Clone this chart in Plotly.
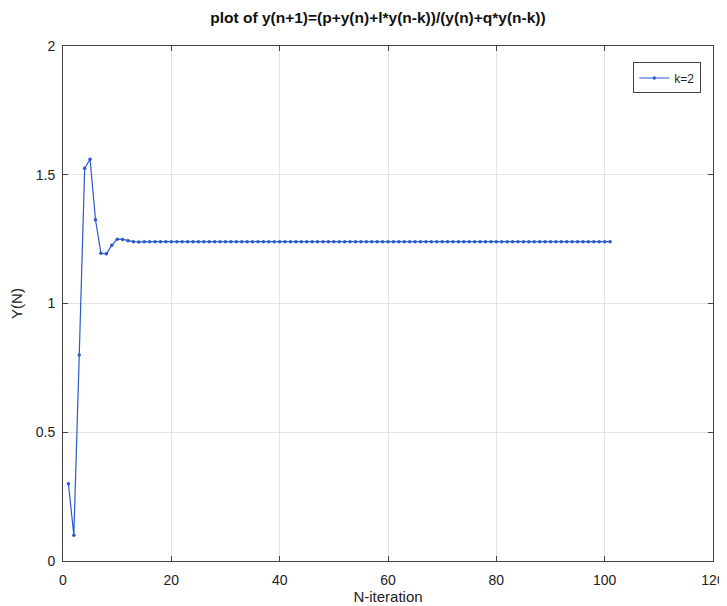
import plotly.graph_objects as go

n_early = list(range(1, 15))
y_early = [0.30, 0.10, 0.80, 1.525, 1.56, 1.325, 1.195, 1.193, 1.226, 1.250, 1.249, 1.244, 1.240, 1.239]
n_steady = list(range(15, 102))
y_steady_value = 1.24

n = n_early + n_steady
y = y_early + [y_steady_value] * len(n_steady)

x_ticks = [0, 20, 40, 60, 80, 100, 120]
y_ticks = [0, 0.5, 1, 1.5, 2]
y_tick_labels = ["0", "0.5", "1", "1.5", "2"]

FONT = "Liberation Sans, Arial"
# the page body has an 8px margin, so the figure is drawn at (8, 8)
W, H = 719, 598

fig = go.Figure()
fig.add_trace(go.Scatter(
    x=n, y=y, mode="lines+markers", name="k=2",
    line=dict(color="#2a5ad0", width=1.2),
    marker=dict(color="#2a5ad0", size=3.5),
))

axis_common = dict(
    showline=True, linecolor="#444", linewidth=1, mirror="ticks",
    ticks="inside", ticklen=5, tickcolor="#444",
    showgrid=True, gridcolor="#e3e3e3", gridwidth=1,
    zeroline=False, automargin=False,
    tickfont=dict(family=FONT, size=14, color="#222"),
)

fig.update_layout(
    width=W, height=H,
    margin=dict(l=55, r=14, t=38, b=45),
    paper_bgcolor="white", plot_bgcolor="white",
    title=dict(text="<b>plot of y(n+1)=(p+y(n)+l*y(n-k))/(y(n)+q*y(n-k))</b>",
               x=(378 - 8) / W, xanchor="center", y=1 - (18 - 8) / H, yanchor="middle",
               font=dict(family=FONT, size=15.5, color="#111")),
    xaxis=dict(range=[0, 120], tickvals=x_ticks, ticklabelstandoff=6,
               title=dict(text="N-iteration", standoff=2,
                          font=dict(family=FONT, size=15, color="#222")),
               **axis_common),
    yaxis=dict(range=[0, 2], tickvals=y_ticks, ticktext=y_tick_labels, ticklabelstandoff=4,
               title=dict(text="Y(N)", standoff=10,
                          font=dict(family=FONT, size=15, color="#222")),
               **axis_common),
    showlegend=True,
    legend=dict(x=0.982, y=0.968, xanchor="right", yanchor="top",
                bordercolor="#444", borderwidth=1, bgcolor="white",
                font=dict(family=FONT, size=12, color="#222"),
                itemwidth=30, tracegroupgap=0),
)

fig.write_html("out.html")
